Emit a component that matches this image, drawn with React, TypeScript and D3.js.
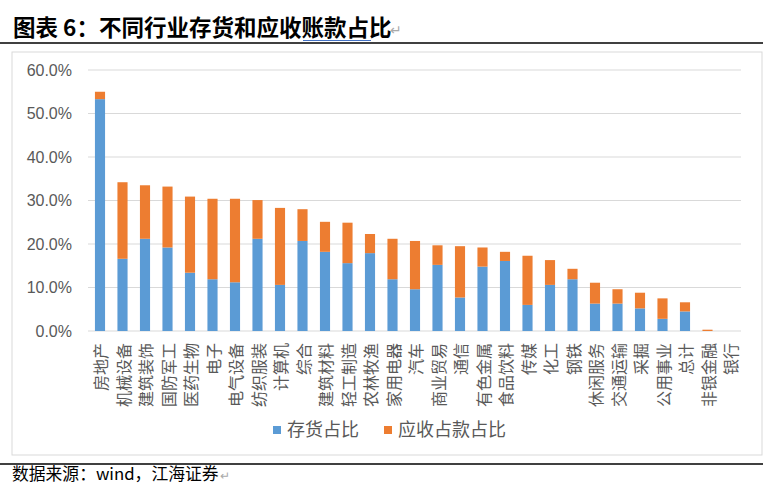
import React from "react";
import * as d3 from "d3";

const categories = ["房地产","机械设备","建筑装饰","国防军工","医药生物","电子","电气设备","纺织服装","计算机","综合","建筑材料","轻工制造","农林牧渔","家用电器","汽车","商业贸易","通信","有色金属","食品饮料","传媒","化工","钢铁","休闲服务","交通运输","采掘","公用事业","总计","非银金融","银行"];
const inventory = [53.3,16.6,21.2,19.2,13.4,11.9,11.2,21.2,10.6,20.7,18.2,15.6,17.9,11.9,9.6,15.2,7.7,14.8,16.1,6.0,10.6,11.9,6.3,6.3,5.2,2.8,4.5,0,0];
const receivable = [1.7,17.6,12.3,14.0,17.5,18.5,19.2,8.9,17.7,7.3,6.9,9.3,4.4,9.3,11.1,4.5,11.8,4.4,2.1,11.3,5.7,2.4,4.8,3.3,3.6,4.7,2.1,0.3,0];
const yTicks = [0,10,20,30,40,50,60];
const seriesNames = ["存货占比","应收占款占比"];
const colors = ["#5B9BD5","#ED7D31"];

export default function App() {
  const W = 773, H = 492;
  const x = d3.scaleBand().domain(categories).range([88.75, 741.25]).paddingInner(0.55).paddingOuter(0.275);
  const y = d3.scaleLinear().domain([0, 60]).range([331, 70]);
  const cjk = "'Noto Sans CJK SC', sans-serif";
  const num = "'Liberation Sans', Arial, sans-serif";
  const bw = x.bandwidth();
  return (
    <svg width={W} height={H} style={{ position: "absolute", left: 0, top: 0, background: "#fff" }}>
      {/* title */}
      <text x={13} y={36} fontFamily={cjk} fontWeight={700} fontSize={22.5} fill="#000">图表 6：不同行业存货和应收账款占比</text>
      <text x={390} y={35} fontFamily={cjk} fontSize={14} fill="#aaa">↵</text>
      <line x1={303} x2={371} y1={40.5} y2={40.5} stroke="#4472C4" strokeWidth={1} />
      <line x1={0} x2={763} y1={43} y2={43} stroke="#000" strokeWidth={1.5} />
      {/* frame */}
      <rect x={12} y={52} width={750} height={403} fill="#fff" stroke="#d9d9d9" strokeWidth={1} />
      {/* grid */}
      {yTicks.map(t => (
        <g key={t}>
          <line x1={88} x2={741} y1={y(t)} y2={y(t)} stroke="#d9d9d9" strokeWidth={1.2} />
          <text x={72} y={y(t)} dy="0.35em" textAnchor="end" fontFamily={num} fontSize={16} fill="#595959">{t.toFixed(1)}%</text>
        </g>
      ))}
      {/* bars */}
      {categories.map((c, i) => {
        const x0 = x(c)!;
        const a = inventory[i], b = receivable[i];
        return (
          <g key={c}>
            {a > 0 && <rect x={x0} y={y(a)} width={bw} height={y(0) - y(a)} fill={colors[0]} />}
            {b > 0 && <rect x={x0} y={y(a + b)} width={bw} height={y(a) - y(a + b)} fill={colors[1]} />}
            <text transform={`translate(${x0 + bw / 2},343) rotate(-90)`} textAnchor="end" dominantBaseline="central" fontFamily={cjk} fontSize={16} fill="#595959">{c}</text>
          </g>
        );
      })}
      {/* legend */}
      {seriesNames.map((s, i) => {
        const lx = i === 0 ? 273 : 384;
        return (
          <g key={s}>
            <rect x={lx} y={426} width={8} height={8} fill={colors[i]} />
            <text x={lx + 14} y={436} fontFamily={cjk} fontSize={18} fill="#595959">{s}</text>
          </g>
        );
      })}
      {/* source */}
      <line x1={0} x2={763} y1={464} y2={464} stroke="#000" strokeWidth={1.5} />
      <text x={12} y={480} fontFamily={cjk} fontSize={16.8} fill="#000">数据来源：wind，江海证券</text>
      <text x={220} y={480} fontFamily={cjk} fontSize={12} fill="#aaa">↵</text>
    </svg>
  );
}
